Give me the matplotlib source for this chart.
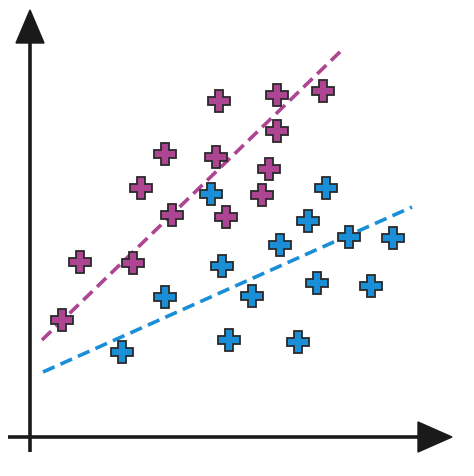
import matplotlib
matplotlib.use("Agg")
import matplotlib.pyplot as plt
from matplotlib.patches import Polygon

# points (pixel positions, y downwards)
purple_x = [62, 80, 133, 141, 165, 172, 219, 216, 226, 262, 269, 277, 277, 323]
purple_y = [320, 262, 263, 188, 154, 215, 101, 157, 217, 195, 169, 95, 131, 91]
blue_x = [122, 165, 211, 222, 229, 252, 280, 298, 308, 317, 326, 349, 371, 393]
blue_y = [352, 297, 194, 266, 340, 296, 245, 342, 221, 283, 188, 237, 286, 238]

# dashed trend lines (end points)
purple_line_x = [42, 343]
purple_line_y = [340, 49]
blue_line_x = [43, 412]
blue_line_y = [372, 207]

purple = "#ad4592"
blue = "#1a8fd8"
dark = "#1a1a1a"

fig = plt.figure(figsize=(4.74, 4.76), dpi=100)
ax = fig.add_axes([0, 0, 1, 1])
ax.set_xlim(0, 474)
ax.set_ylim(476, 0)
ax.set_axis_off()

# axes with arrowheads
ax.plot([30, 30], [452, 40], color=dark, lw=2.6, solid_capstyle="butt")
ax.add_patch(Polygon([[30, 10], [16, 43], [44, 43]], closed=True, color=dark))
ax.plot([8, 422], [437, 437], color=dark, lw=2.6, solid_capstyle="butt")
ax.add_patch(Polygon([[452, 437], [418, 422], [418, 452]], closed=True, color=dark))

# trend lines
ax.plot(purple_line_x, purple_line_y, color=purple, lw=2.6, ls=(0, (3.5, 1.8)))
ax.plot(blue_line_x, blue_line_y, color=blue, lw=2.6, ls=(0, (3.5, 1.8)))

# markers
ax.plot(purple_x, purple_y, ls="none", marker="P", ms=16, mfc=purple, mec="#2a2a2a", mew=1.3)
ax.plot(blue_x, blue_y, ls="none", marker="P", ms=16, mfc=blue, mec="#2a2a2a", mew=1.3)

fig.savefig("out.png", dpi=100)
